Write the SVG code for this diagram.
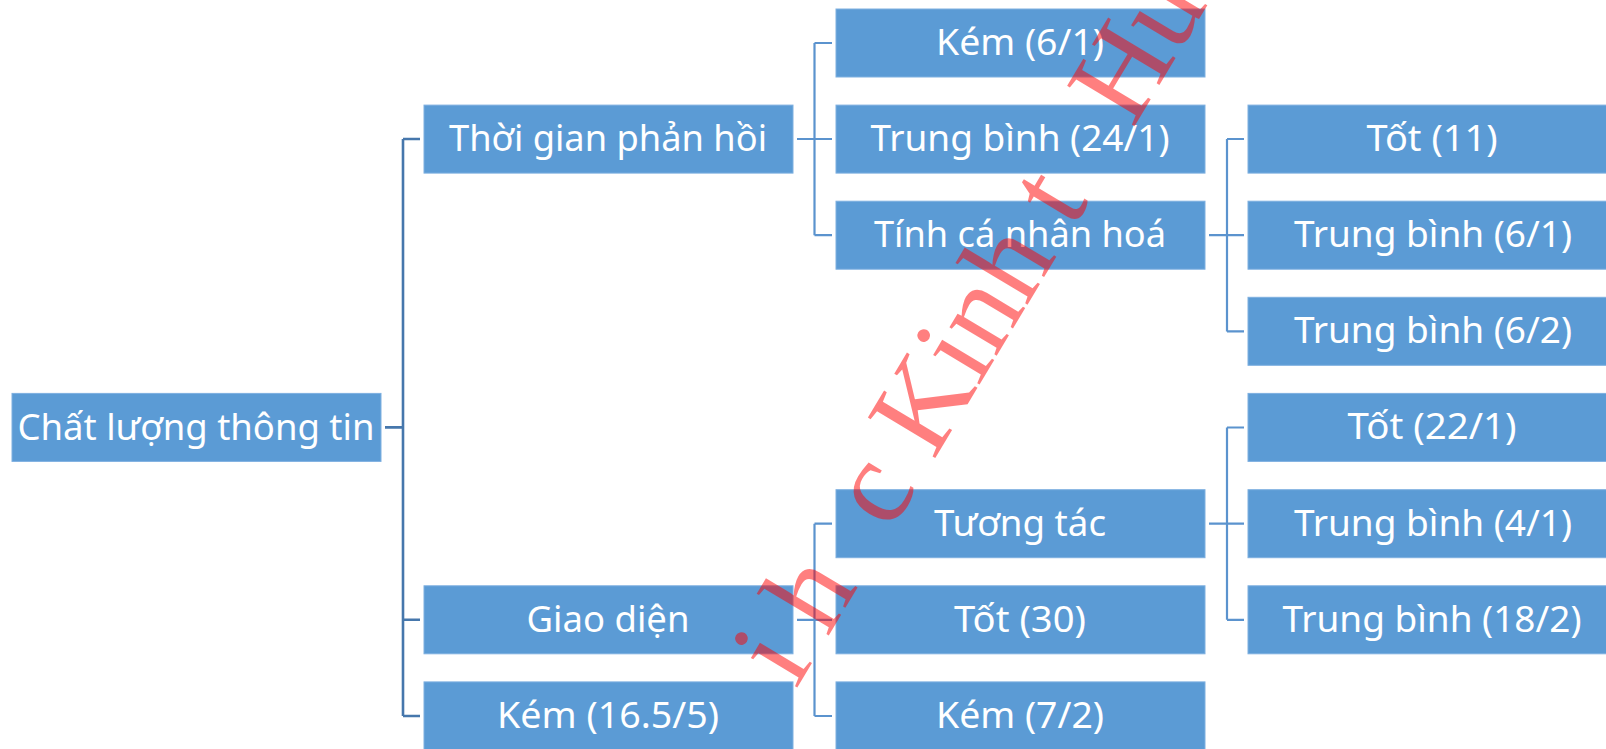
<svg xmlns="http://www.w3.org/2000/svg" width="1606" height="749" viewBox="0 0 1606 749">
<style>
.box{fill:#5B9BD5;stroke:#7EB0E0;stroke-width:1}
.lbl{font-family:"Noto Sans","Open Sans",sans-serif;font-size:37px;fill:#FFFFFF;text-anchor:middle}
.c0{fill:none;stroke:#4677AC;stroke-width:2.6}
.c1{fill:none;stroke:#5B93CE;stroke-width:2.2}
.wm{font-family:"Liberation Serif","Times New Roman",serif;font-size:120px;fill:#FF0000;fill-opacity:0.5}
</style>
<rect width="1606" height="749" fill="#FFFFFF"/>
<g id="connectors">
<path class="c0" d="M385 427.4H403M403 139V716M403 139H420M403 619.8H420M403 716H420"/>
<path class="c1" d="M797 139H814.5M814.5 43V235.2M814.5 43H832M814.5 139H832M814.5 235.2H832"/>
<path class="c1" d="M1209 235.2H1227M1227 139V331.4M1227 139H1244M1227 235.2H1244M1227 331.4H1244"/>
<path class="c1" d="M797 619.8H814.5M814.5 523.7V716M814.5 523.7H832M814.5 619.8H832M814.5 716H832"/>
<path class="c1" d="M1209 523.7H1227M1227 427.5V619.8M1227 427.5H1244M1227 523.7H1244M1227 619.8H1244"/>
</g>
<g id="n-root"><rect class="box" x="12" y="393.4" width="369" height="68"/><text class="lbl" x="196" y="439.5" textLength="357" lengthAdjust="spacingAndGlyphs">Chất lượng thông tin</text></g>
<g id="n-thoigian"><rect class="box" x="424" y="105.1" width="369" height="68"/><text class="lbl" x="608" y="151" textLength="318" lengthAdjust="spacingAndGlyphs">Thời gian phản hồi</text></g>
<g id="n-giaodien"><rect class="box" x="424" y="585.8" width="369" height="68"/><text class="lbl" x="608" y="631.7" textLength="163" lengthAdjust="spacingAndGlyphs">Giao diện</text></g>
<g id="n-kem165"><rect class="box" x="424" y="681.9" width="369" height="68"/><text class="lbl" x="608" y="727.8" textLength="222" lengthAdjust="spacingAndGlyphs">Kém (16.5/5)</text></g>
<g id="n-kem61"><rect class="box" x="836" y="9" width="369" height="68"/><text class="lbl" x="1020" y="54.9" textLength="168" lengthAdjust="spacingAndGlyphs">Kém (6/1)</text></g>
<g id="n-tb241"><rect class="box" x="836" y="105.1" width="369" height="68"/><text class="lbl" x="1020" y="151" textLength="299" lengthAdjust="spacingAndGlyphs">Trung bình (24/1)</text></g>
<g id="n-tinhcanhan"><rect class="box" x="836" y="201.2" width="369" height="68"/><text class="lbl" x="1020" y="247.1" textLength="292" lengthAdjust="spacingAndGlyphs">Tính cá nhân hoá</text></g>
<g id="n-tuongtac"><rect class="box" x="836" y="489.7" width="369" height="68"/><text class="lbl" x="1020" y="535.6" textLength="172" lengthAdjust="spacingAndGlyphs">Tương tác</text></g>
<g id="n-tot30"><rect class="box" x="836" y="585.8" width="369" height="68"/><text class="lbl" x="1020" y="631.7" textLength="132" lengthAdjust="spacingAndGlyphs">Tốt (30)</text></g>
<g id="n-kem72"><rect class="box" x="836" y="681.9" width="369" height="68"/><text class="lbl" x="1020" y="727.8" textLength="168" lengthAdjust="spacingAndGlyphs">Kém (7/2)</text></g>
<g id="n-tot11"><rect class="box" x="1248" y="105.1" width="369" height="68"/><text class="lbl" x="1432" y="151" textLength="131" lengthAdjust="spacingAndGlyphs">Tốt (11)</text></g>
<g id="n-tb61"><rect class="box" x="1248" y="201.2" width="369" height="68"/><text class="lbl" x="1433" y="247.1" textLength="278" lengthAdjust="spacingAndGlyphs">Trung bình (6/1)</text></g>
<g id="n-tb62"><rect class="box" x="1248" y="297.3" width="369" height="68"/><text class="lbl" x="1433" y="343.2" textLength="278" lengthAdjust="spacingAndGlyphs">Trung bình (6/2)</text></g>
<g id="n-tot221"><rect class="box" x="1248" y="393.4" width="369" height="68"/><text class="lbl" x="1432" y="439.3" textLength="169" lengthAdjust="spacingAndGlyphs">Tốt (22/1)</text></g>
<g id="n-tb41"><rect class="box" x="1248" y="489.7" width="369" height="68"/><text class="lbl" x="1433" y="535.6" textLength="278" lengthAdjust="spacingAndGlyphs">Trung bình (4/1)</text></g>
<g id="n-tb182"><rect class="box" x="1248" y="585.8" width="369" height="68"/><text class="lbl" x="1432" y="631.7" textLength="299" lengthAdjust="spacingAndGlyphs">Trung bình (18/2)</text></g>
<g id="watermark" transform="translate(813.5 660.7) rotate(-59)">
<text class="wm"><tspan x="-34">i</tspan><tspan x="27">h</tspan><tspan x="150">c</tspan><tspan x="233">Kinh</tspan><tspan x="503">t</tspan><tspan x="620">Hu</tspan></text>
</g>
</svg>
